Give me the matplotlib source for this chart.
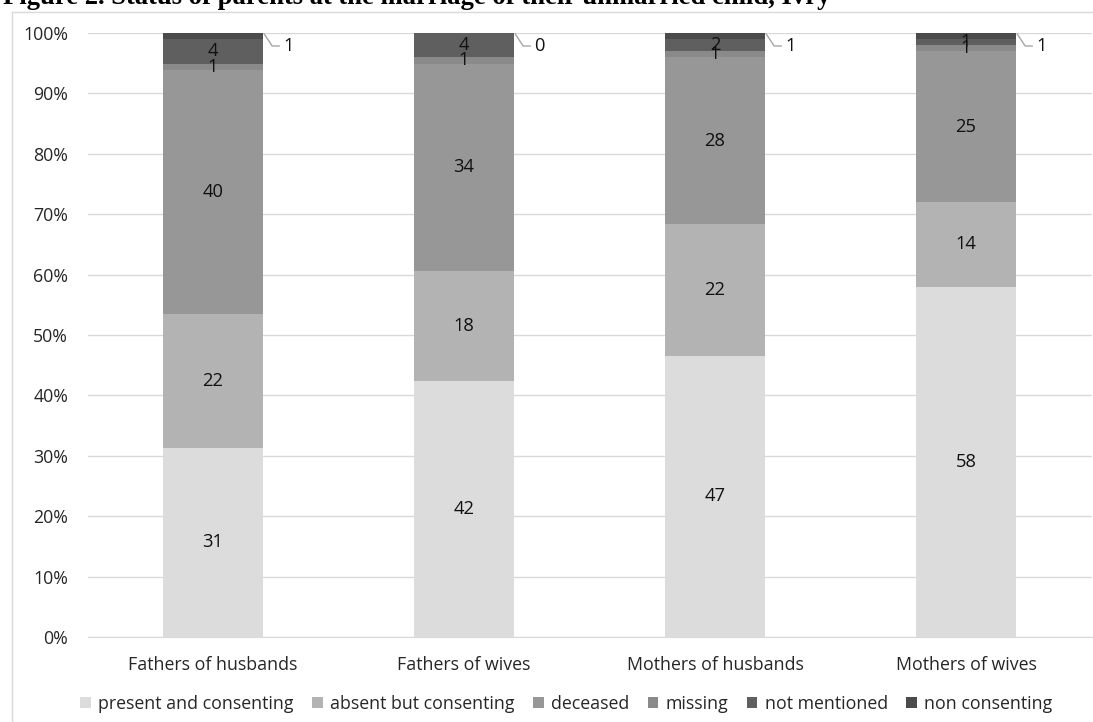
import matplotlib
matplotlib.use("Agg")
import matplotlib.pyplot as plt
from matplotlib.transforms import ScaledTranslation
from matplotlib.lines import Line2D
import numpy as np

categories = ["Fathers of husbands", "Fathers of wives", "Mothers of husbands", "Mothers of wives"]
series_names = ["present and consenting", "absent but consenting", "deceased",
                "missing", "not mentioned", "non consenting"]
present_and_consenting = [31, 42, 47, 58]
absent_but_consenting = [22, 18, 22, 14]
deceased = [40, 34, 28, 25]
missing = [1, 1, 1, 1]
not_mentioned = [4, 4, 2, 1]
non_consenting = [1, 0, 1, 1]
colors = ["#dcdcdc", "#b3b3b3", "#979797", "#8a8a8a", "#5f5f5f", "#4b4b4b"]
title = "Figure 2. Status of parents at the marriage of their unmarried child, Ivry"

series = [present_and_consenting, absent_but_consenting, deceased,
          missing, not_mentioned, non_consenting]
values = np.array(series, dtype=float)
shares = values / values.sum(axis=0) * 100  # 100% stacked

W, H = 1093, 722
fig = plt.figure(figsize=(W / 100, H / 100), dpi=100)
plt.rcParams["font.family"] = ["Open Sans", "DejaVu Sans"]
text_color = "#262626"
fs = 12.8
fs_num = 13.2

ax = fig.add_axes([87.5 / W, 1 - 637 / H, (1091.5 - 87.5) / W, (637 - 33) / H])
x = np.arange(len(categories))
ax.set_xlim(-0.5, len(categories) - 0.5)
ax.set_ylim(0, 100)

bottom = np.zeros(len(categories))
bar_w = 0.4
for name, row, vals, col in zip(series_names, shares, values, colors):
    ax.bar(x, row, bar_w, bottom=bottom, color=col, label=name, zorder=2)
    if name != "non consenting":
        for xi, b, h, v in zip(x, bottom, row, vals):
            ax.text(xi, b + h / 2, f"{v:.0f}", ha="center", va="center",
                    fontsize=fs_num, color="#111111", zorder=4)
    bottom = bottom + row


def shifted(dx, dy):
    """Data transform shifted by (dx, dy) pixels."""
    return ax.transData + ScaledTranslation(dx / 100, dy / 100, fig.dpi_scale_trans)


# callout labels for the top segment, placed to the right of each bar
leader = [(1, -1), (9, -13), (16, -13)]
for xi, v in zip(x, values[-1]):
    x0, y0 = xi + bar_w / 2, 100
    px, py = ax.transData.transform((x0, y0))
    xs = [(px + dx) / W for dx, dy in leader]
    ys = [(py + dy) / H for dx, dy in leader]
    fig.add_artist(Line2D(xs, ys, color="#a6a6a6", lw=1.0, zorder=5,
                          transform=fig.transFigure))
    ax.text(x0, y0, f"{v:.0f}", transform=shifted(20, -13), ha="left", va="center",
            fontsize=fs_num, color="#111111", clip_on=False)

ax.set_yticks(np.arange(0, 101, 10))
ax.set_yticklabels([f"{t}%" for t in range(0, 101, 10)])
ax.set_xticks(x)
ax.set_xticklabels(categories)
ax.tick_params(axis="both", length=0, labelsize=fs, colors=text_color)
ax.tick_params(axis="x", pad=14)
ax.tick_params(axis="y", pad=14)
ax.grid(axis="y", color="#d9d9d9", lw=1.0, zorder=0)
for s in ["top", "right", "left"]:
    ax.spines[s].set_visible(False)
ax.spines["bottom"].set_color("#d9d9d9")

# chart area border
fig.add_artist(Line2D([12 / W, 12 / W], [1 - 12 / H, 0], color="#d9d9d9", lw=1,
                      transform=fig.transFigure))
fig.add_artist(Line2D([12 / W, 1], [1 - 12 / H, 1 - 12 / H], color="#d9d9d9", lw=1,
                      transform=fig.transFigure))

fig.text(3 / W, 1 - 4 / H, title, family="Liberation Serif", weight="bold",
         fontsize=19.2, ha="left", va="baseline", color="black")

handles, labels = ax.get_legend_handles_labels()
fig.legend(handles, labels, loc="center", bbox_to_anchor=(0.518, 1 - 704 / H),
           ncol=6, frameon=False, fontsize=fs, handlelength=0.6, handleheight=0.6,
           handletextpad=0.4, columnspacing=1.05, labelcolor=text_color)

fig.savefig("out.png", dpi=100)
